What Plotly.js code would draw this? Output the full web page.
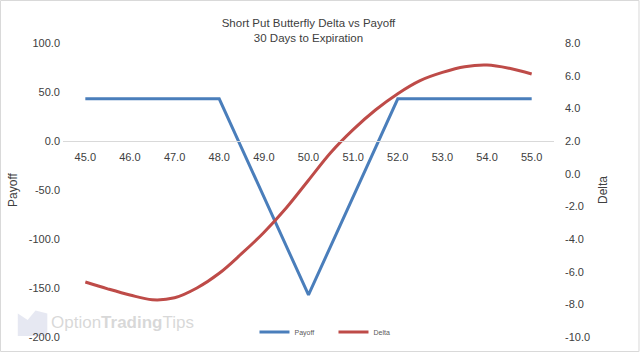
<!DOCTYPE html>
<html><head><meta charset="utf-8">
<script src="https://cdn.plot.ly/plotly-3.0.1.min.js"></script>
<style>html,body{margin:0;padding:0;background:#fff;}#chart{width:640px;height:353px;}</style>
</head><body><div id="chart"></div>
<script>
const price = [45.0,45.5,46.0,46.5,47.0,47.5,48.0,48.5,49.0,49.5,50.0,50.5,51.0,51.5,52.0,52.5,53.0,53.5,54.0,54.5,55.0];
const payoff = [43,43,43,43,43,43,43,-7,-57,-107,-157,-107,-57,-7,43,43,43,43,43,43,43];
const delta = [-6.63,-7.05,-7.43,-7.72,-7.6,-7.0,-6.1,-4.9,-3.6,-2.1,-0.4,1.3,2.7,3.9,4.9,5.7,6.2,6.55,6.65,6.45,6.1];
const xTicks = [45,46,47,48,49,50,51,52,53,54,55];
const xTickText = ["45.0","46.0","47.0","48.0","49.0","50.0","51.0","52.0","53.0","54.0","55.0"];
const yTicks = [-200,-150,-100,-50,0,50,100];
const yTickText = ["-200.0","-150.0","-100.0","-50.0","0.0","50.0","100.0"];
const y2Ticks = [-10,-8,-6,-4,-2,0,2,4,6,8];
const y2TickText = ["-10.0","-8.0","-6.0","-4.0","-2.0","0.0","2.0","4.0","6.0","8.0"];

const FONT = "Liberation Sans Narrow, Liberation Sans, Arial, sans-serif";
const traces = [
  {x: price, y: payoff, name: "Payoff", type: "scatter", mode: "lines",
   line: {color: "#4A7EBB", width: 3}, yaxis: "y"},
  {x: price, y: delta, name: "Delta", type: "scatter", mode: "lines",
   line: {color: "#BE4B48", width: 3, shape: "spline", smoothing: 1}, yaxis: "y2"}
];
const layout = {
  width: 640, height: 353,
  margin: {l: 63, r: 86, t: 43, b: 16, autoexpand: false},
  paper_bgcolor: "#fff", plot_bgcolor: "rgba(0,0,0,0)",
  font: {family: FONT, color: "#404040", size: 11},
  title: {text: "Short Put Butterfly Delta vs Payoff<br>30 Days to Expiration",
          x: 0.5, xref: "paper", yref: "container", y: 0.924, yanchor: "middle",
          font: {family: FONT, size: 11.5, color: "#404040"}},
  showlegend: true,
  legend: {orientation: "h", x: 0.39, xanchor: "left", y: 0.017, yanchor: "middle",
           xref: "paper", yref: "paper", entrywidth: 34, entrywidthmode: "pixels",
           font: {family: FONT, size: 7, color: "#595959"}, bgcolor: "rgba(0,0,0,0)"},
  xaxis: {range: [44.5, 55.5], tickvals: xTicks, ticktext: xTickText,
          anchor: "free", position: 0.6667, showline: true, linecolor: "#D9D9D9", linewidth: 1,
          showgrid: false, zeroline: false, ticks: "", ticklen: 0, ticklabelstandoff: 6,
          tickfont: {family: FONT, size: 11, color: "#404040"}},
  yaxis: {range: [-200, 100], tickvals: yTicks, ticktext: yTickText,
          showgrid: false, zeroline: false, showline: false, ticks: "", ticklabelstandoff: 2,
          title: {text: "Payoff", standoff: 8, font: {family: FONT, size: 12, color: "#404040"}},
          tickfont: {family: FONT, size: 11, color: "#404040"}},
  yaxis2: {range: [-10, 8], tickvals: y2Ticks, ticktext: y2TickText, overlaying: "y", side: "right",
          showgrid: false, zeroline: false, showline: false, ticks: "", ticklabelstandoff: 10,
          title: {text: "Delta", standoff: 9, font: {family: FONT, size: 12, color: "#404040"}},
          tickfont: {family: FONT, size: 11, color: "#404040"}},
  shapes: [
    {type: "rect", xref: "paper", yref: "paper", x0: -0.1273, x1: 1.1731, y0: -0.0493, y1: 1.1446,
     line: {color: "#D9D9D9", width: 1}, fillcolor: "rgba(0,0,0,0)", layer: "below"},
    {type: "path", xref: "paper", yref: "paper",
     path: "M -0.0920 0.0030 L -0.0920 0.0800 L -0.0720 0.0580 L -0.0560 0.0900 L -0.0320 0.0800 L -0.0320 0.0030 Z",
     fillcolor: "rgba(205,210,230,0.5)", line: {width: 0}, layer: "below"}
  ],
  annotations: [
    {text: "Option<b>Trading</b>Tips", xref: "paper", yref: "paper", x: -0.028, y: 0.05,
     xanchor: "left", yanchor: "middle", showarrow: false,
     font: {family: "Liberation Sans, Arial, sans-serif", size: 17, color: "rgba(190,190,190,0.6)"}}
  ]
};
Plotly.newPlot("chart", traces, layout, {displayModeBar: false, staticPlot: true});
</script></body></html>
